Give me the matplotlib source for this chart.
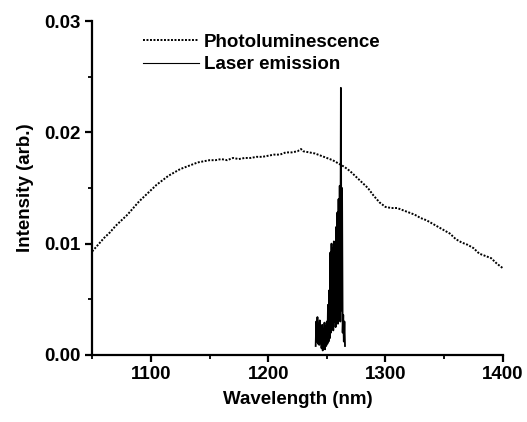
import matplotlib
matplotlib.use("Agg")
from matplotlib import pyplot as plt
from matplotlib.ticker import MultipleLocator, FormatStrFormatter

plt.rcParams['font.family'] = ['Liberation Sans', 'DejaVu Sans']
plt.rcParams['font.weight'] = 'bold'
plt.rcParams['axes.labelweight'] = 'bold'

# Photoluminescence spectrum
pl_wl = [1050, 1055, 1060, 1065, 1070, 1075, 1080, 1085, 1090, 1095,
         1100, 1105, 1110, 1115, 1120, 1125, 1130, 1135, 1140, 1145,
         1150, 1155, 1160, 1165, 1170, 1175, 1180, 1185, 1190, 1195,
         1200, 1205, 1210, 1215, 1220, 1225, 1228, 1230, 1235, 1240,
         1245, 1250, 1255, 1260, 1265, 1270, 1275, 1280, 1285, 1290,
         1295, 1300, 1305, 1310, 1315, 1320, 1325, 1330, 1335, 1340,
         1345, 1350, 1355, 1360, 1365, 1370, 1375, 1380, 1385, 1390,
         1395, 1400]
pl_int = [0.0093, 0.0099, 0.0105, 0.0110, 0.0116, 0.0121, 0.0126, 0.0132, 0.0138, 0.0143,
          0.0148, 0.0153, 0.0157, 0.0161, 0.0164, 0.0167, 0.0169, 0.0171, 0.0173, 0.0174,
          0.0175, 0.0175, 0.0176, 0.0175, 0.0177, 0.0176, 0.0177, 0.0177, 0.0178, 0.0178,
          0.0179, 0.0180, 0.0180, 0.0182, 0.0182, 0.0183, 0.0185, 0.0183, 0.0182, 0.0181,
          0.0179, 0.0177, 0.0175, 0.0172, 0.0169, 0.0165, 0.0160, 0.0155, 0.0150, 0.0143,
          0.0137, 0.0133, 0.0132, 0.0132, 0.0130, 0.0128, 0.0126, 0.0123, 0.0121, 0.0118,
          0.0115, 0.0112, 0.0109, 0.0104, 0.0101, 0.0099, 0.0096, 0.0091, 0.0089, 0.0087,
          0.0082, 0.0078]

# Laser emission (dense spiky band)
laser_wl = [1240.5, 1241.0, 1241.5, 1242.0, 1242.5, 1243.0, 1243.5, 1244.0, 1244.5,
            1245.0, 1245.5, 1246.0, 1246.5, 1247.0, 1247.5, 1248.0, 1248.5, 1249.0, 1249.5,
            1250.0, 1250.5, 1251.0, 1251.5, 1252.0, 1252.5, 1253.0, 1253.5, 1254.0, 1254.5,
            1255.0, 1255.5, 1256.0, 1256.5, 1257.0, 1257.5, 1258.0, 1258.5, 1259.0, 1259.5,
            1260.0, 1260.5, 1261.0, 1261.5, 1262.0, 1262.5, 1263.0, 1263.5, 1264.0, 1264.5,
            1265.0, 1265.5]
laser_int = [0.0008, 0.0030, 0.0012, 0.0034, 0.0010, 0.0028, 0.0009, 0.0031, 0.0011, 0.0024,
             0.0006, 0.0027, 0.0004, 0.0022, 0.0007, 0.0029, 0.0005, 0.0026, 0.0008, 0.0030,
             0.0010, 0.0045, 0.0012, 0.0058, 0.0015, 0.0092, 0.0020, 0.0100, 0.0028, 0.0096,
             0.0022, 0.0102, 0.0030, 0.0098, 0.0025, 0.0115, 0.0032, 0.0128, 0.0028, 0.0140,
             0.0035, 0.0152, 0.0030, 0.0240, 0.0040, 0.0150, 0.0020, 0.0036, 0.0012, 0.0030,
             0.0008]

fig = plt.figure(figsize=(5.27, 4.22), dpi=100)
ax = fig.add_axes([0.175, 0.159, 0.779, 0.791])

ax.plot(pl_wl, pl_int, color='black', lw=1.4, ls=(0, (1, 0.8)), label='Photoluminescence')
ax.plot(laser_wl, laser_int, color='black', lw=1.3, label='Laser emission')

ax.set_xlim(1050, 1400)
ax.set_ylim(0, 0.03)
ax.xaxis.set_major_locator(MultipleLocator(100))
ax.xaxis.set_minor_locator(MultipleLocator(50))
ax.yaxis.set_major_locator(MultipleLocator(0.01))
ax.yaxis.set_minor_locator(MultipleLocator(0.005))
ax.yaxis.set_major_formatter(FormatStrFormatter('%.2f'))

for s in ['top', 'right']:
    ax.spines[s].set_visible(False)
for s in ['left', 'bottom']:
    ax.spines[s].set_linewidth(1.6)
ax.tick_params(which='major', direction='out', length=5, width=1.6, labelsize=13.5, pad=3)
ax.tick_params(which='minor', direction='out', length=3, width=1.3)

ax.set_xlabel('Wavelength (nm)', fontsize=13.5, labelpad=6)
ax.set_ylabel('Intensity (arb.)', fontsize=13.5, labelpad=8)

leg = ax.legend(loc='upper left', bbox_to_anchor=(0.123, 0.963), frameon=False,
                borderpad=0, borderaxespad=0,
                fontsize=13.5, handlelength=3.0, handletextpad=0.27, labelspacing=0.3)
leg.get_lines()[1].set_linewidth(0.8)

fig.savefig('out.png', dpi=100)
